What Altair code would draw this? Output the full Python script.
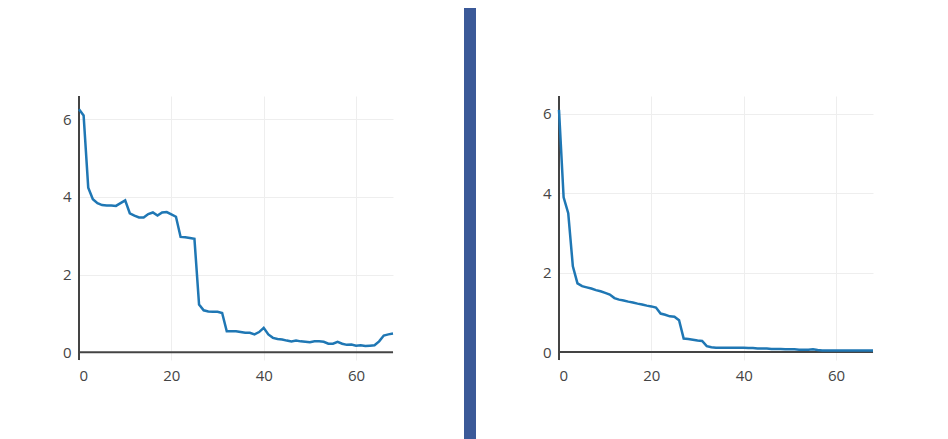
import altair as alt
import pandas as pd

left_vals = [6.26, 6.1, 4.24, 3.94, 3.84, 3.79, 3.78, 3.78, 3.77, 3.84, 3.91,
             3.58, 3.52, 3.47, 3.47, 3.56, 3.6, 3.52, 3.6, 3.61, 3.55, 3.49,
             2.97, 2.96, 2.94, 2.92, 1.23, 1.08, 1.05, 1.04, 1.04, 1.01,
             0.54, 0.54, 0.54, 0.52, 0.5, 0.5, 0.46, 0.52, 0.63, 0.46, 0.37,
             0.34, 0.33, 0.3, 0.28, 0.3, 0.28, 0.27, 0.26, 0.28, 0.28, 0.27,
             0.22, 0.22, 0.27, 0.22, 0.19, 0.2, 0.17, 0.18, 0.16, 0.17, 0.18,
             0.28, 0.43, 0.46, 0.48]
right_vals = [6.1, 3.9, 3.5, 2.16, 1.73, 1.66, 1.63, 1.6, 1.56, 1.53, 1.49,
              1.45, 1.36, 1.32, 1.3, 1.27, 1.25, 1.22, 1.2, 1.17, 1.15, 1.12,
              0.97, 0.94, 0.9, 0.89, 0.8, 0.34, 0.33, 0.31, 0.29, 0.28,
              0.15, 0.12, 0.11, 0.11, 0.11, 0.11, 0.11, 0.11, 0.11, 0.1, 0.1,
              0.09, 0.09, 0.09, 0.08, 0.08, 0.08, 0.07, 0.07, 0.07, 0.06, 0.06,
              0.06, 0.07, 0.05, 0.04, 0.04, 0.04, 0.04, 0.04, 0.04, 0.04, 0.04,
              0.04, 0.04, 0.04, 0.04]
x_ticks = [0, 20, 40, 60]
y_ticks = [0, 2, 4, 6]


def panel(vals, y_top):
    df = pd.DataFrame({"x": list(range(len(vals))), "y": vals})
    x = alt.X("x:Q", title=None, scale=alt.Scale(domain=[0, 68], nice=False, zero=False),
              axis=alt.Axis(values=x_ticks, domain=False, ticks=False, gridColor="#eeeeee",
                            labelColor="#444", labelFontSize=15, labelPadding=8))
    y = alt.Y("y:Q", title=None, scale=alt.Scale(domain=[-0.2, y_top], nice=False, zero=False),
              axis=alt.Axis(values=y_ticks, domain=False, ticks=False, gridColor="#eeeeee",
                            labelColor="#444", labelFontSize=15, labelPadding=8))
    line = alt.Chart(df).mark_line(color="#1f77b4", strokeWidth=2.5).encode(x=x, y=y)
    zero_h = alt.Chart(pd.DataFrame({"y": [0]})).mark_rule(color="#444", strokeWidth=2).encode(y="y:Q")
    zero_v = alt.Chart(pd.DataFrame({"x": [0]})).mark_rule(color="#444", strokeWidth=2).encode(x="x:Q")
    return alt.layer(zero_h, zero_v, line).properties(width=314, height=264)


divider = alt.Chart(pd.DataFrame({"a": [0]})).mark_rect(color="#3b5998", clip=False).encode(
    x=alt.value(0), x2=alt.value(12), y=alt.value(-88), y2=alt.value(350)
).properties(width=12, height=264)

chart = alt.hconcat(panel(left_vals, 6.6), divider, panel(right_vals, 6.45), spacing=66).properties(
    padding={"top": 0, "left": 54, "right": 0, "bottom": 0}
).configure_view(stroke=None).configure_axis(labelFont="Open Sans")

chart.save("out.html", embed_options={"renderer": "svg", "actions": False})
